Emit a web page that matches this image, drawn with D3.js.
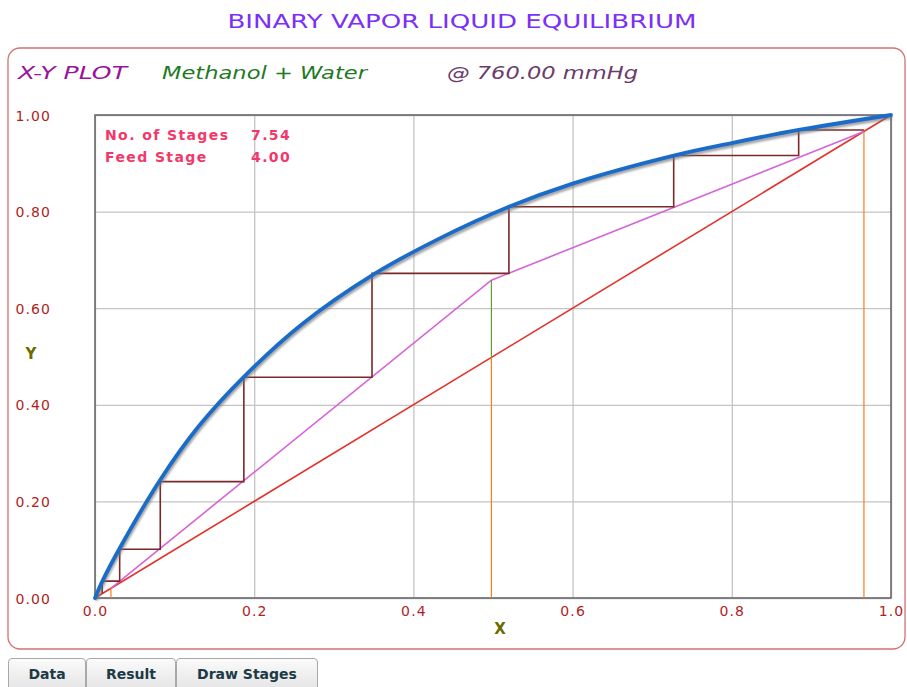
<!DOCTYPE html>
<html>
<head>
<meta charset="utf-8">
<script src="https://cdn.jsdelivr.net/npm/d3@7/dist/d3.min.js"></script>
<style>
  body { margin: 0; background: #fff; }
  svg { display: block; }
</style>
</head>
<body>
<script>
// values
var ticks = [0, 0.2, 0.4, 0.6, 0.8, 1.0];

// equilibrium curve (methanol mole fraction, liquid x / vapour y)
var eqX = [0, 0.009, 0.031, 0.082, 0.130, 0.187, 0.260, 0.348, 0.430, 0.520, 0.600, 0.727, 0.800, 0.884, 1.0];
var eqY = [0, 0.034, 0.103, 0.245, 0.355, 0.458, 0.567, 0.668, 0.742, 0.810, 0.858, 0.916, 0.942, 0.969, 1.0];

// operating lines: xW -> feed intersection -> xD
var opX = [0.020, 0.498, 0.966];
var opY = [0.020, 0.658, 0.966];

// staircase corners
var stageX = [0.966, 0.884, 0.727, 0.520, 0.348, 0.187, 0.082, 0.031, 0.009];
var stageY = [0.969, 0.916, 0.810, 0.672, 0.457, 0.241, 0.101, 0.035, 0.010];

var xD = 0.966, xF = 0.498, xW = 0.020, yFeed = 0.658;
var nStages = 7.54, feedStage = 4.00;
var tabs = ["Data", "Result", "Draw Stages"];

var W = 907, H = 687;
var plot = {left: 95, right: 891, top: 115, bottom: 598};

var svg = d3.select('body').append('svg').attr('width', W).attr('height', H);

var defs = svg.append('defs');
defs.append('filter').attr('id', 'blur').append('feGaussianBlur').attr('stdDeviation', 1.2);
var grad = defs.append('linearGradient').attr('id', 'tabg').attr('x1', 0).attr('x2', 0).attr('y1', 0).attr('y2', 1);
grad.append('stop').attr('offset', '0%').attr('stop-color', '#fbfbfb');
grad.append('stop').attr('offset', '100%').attr('stop-color', '#dedede');

// title
svg.append('text')
    .attr('x', 462).attr('y', 28)
    .attr('text-anchor', 'middle')
    .attr('fill', '#7b2ff7')
    .attr('font-family', 'DejaVu Sans')
    .attr('font-size', 20)
    .attr('textLength', 469)
    .attr('lengthAdjust', 'spacingAndGlyphs')
    .text('BINARY VAPOR LIQUID EQUILIBRIUM');

// panel
svg.append('rect')
    .attr('x', 8).attr('y', 48).attr('width', 897).attr('height', 601)
    .attr('rx', 12)
    .attr('fill', 'none')
    .attr('stroke', '#d47272')
    .attr('stroke-width', 1.3);

var header = [
  {t: 'X-Y PLOT', x: 18, w: 109, c: '#9b139b'},
  {t: 'Methanol + Water', x: 162, w: 205, c: '#1f7a1f'},
  {t: '@ 760.00 mmHg', x: 447, w: 191, c: '#6b3b6b'}
];
svg.selectAll('text.hdr')
    .data(header)
    .enter().append('text')
        .attr('class', 'hdr')
        .attr('x', function(d){ return d.x; })
        .attr('y', 79)
        .attr('fill', function(d){ return d.c; })
        .attr('font-family', 'DejaVu Sans')
        .attr('font-style', 'italic')
        .attr('font-size', 18)
        .attr('textLength', function(d){ return d.w; })
        .attr('lengthAdjust', 'spacingAndGlyphs')
        .text(function(d){ return d.t; });

var x = d3.scaleLinear().domain([0, 1]).range([plot.left, plot.right]);
var y = d3.scaleLinear().domain([0, 1]).range([plot.bottom, plot.top]);
var pw = plot.right - plot.left, ph = plot.bottom - plot.top;

var g = svg.append('g');

// grid + tick labels
var xAxis = g.append('g')
    .attr('transform', 'translate(0,' + plot.bottom + ')')
    .call(d3.axisBottom(x).tickValues(ticks).tickSize(-ph).tickPadding(8).tickFormat(d3.format('.1f')));
var yAxis = g.append('g')
    .attr('transform', 'translate(' + plot.left + ',0)')
    .call(d3.axisLeft(y).tickValues(ticks).tickSize(-pw).tickPadding(44).tickFormat(d3.format('.2f')));

[xAxis, yAxis].forEach(function(a){
  a.select('.domain').remove();
  a.selectAll('line').attr('stroke', '#c4c4c4').attr('stroke-width', 1.3);
  a.selectAll('text')
      .attr('fill', '#b01e1e')
      .attr('font-family', 'DejaVu Sans')
      .attr('font-size', 14)
      .attr('letter-spacing', 1.1);
});
yAxis.selectAll('text').attr('dy', '0.36em');

// plot frame
g.append('rect')
    .attr('x', plot.left).attr('y', plot.top).attr('width', pw).attr('height', ph)
    .attr('fill', 'none')
    .attr('stroke', '#6a6a6a')
    .attr('stroke-width', 1.6);

// axis titles
svg.append('text').attr('x', 500).attr('y', 634).attr('text-anchor', 'middle')
    .attr('fill', '#6b6b00').attr('font-family', 'DejaVu Sans').attr('font-weight', 'bold')
    .attr('font-size', 15).text('X');
svg.append('text').attr('x', 31).attr('y', 359).attr('text-anchor', 'middle')
    .attr('fill', '#6b6b00').attr('font-family', 'DejaVu Sans').attr('font-weight', 'bold')
    .attr('font-size', 15).text('Y');

var line = d3.line().x(function(d){ return x(d[0]); }).y(function(d){ return y(d[1]); });

// y = x diagonal
g.append('path')
    .attr('d', line([[0, 0], [1, 1]]))
    .attr('fill', 'none').attr('stroke', '#e2332b').attr('stroke-width', 1.6);

// operating lines
g.append('path')
    .attr('d', line(opX.map(function(v, i){ return [v, opY[i]]; })))
    .attr('fill', 'none').attr('stroke', '#d862d8').attr('stroke-width', 1.6);

// feed line and composition markers
g.append('path')
    .attr('d', line([[xF, yFeed], [xF, xF]]))
    .attr('fill', 'none').attr('stroke', '#5f9e2f').attr('stroke-width', 1.2);
g.selectAll('path.mark')
    .data([xW, xF, xD])
    .enter().append('path')
        .attr('class', 'mark')
        .attr('d', function(d){ return line([[d, d], [d, 0]]); })
        .attr('fill', 'none').attr('stroke', '#ff7a1a').attr('stroke-width', 1.2);

// stages
var steps = [[stageX[0], stageY[0]]];
for (var i = 1; i < stageX.length; i++) {
  steps.push([stageX[i], stageY[i - 1]]);
  steps.push([stageX[i], stageY[i]]);
}
g.append('path')
    .attr('d', line(steps))
    .attr('fill', 'none').attr('stroke', '#7b2828').attr('stroke-width', 1.6);

// equilibrium curve with soft shadow
var eq = eqX.map(function(v, i){ return [v, eqY[i]]; });
var curve = d3.line().x(function(d){ return x(d[0]); }).y(function(d){ return y(d[1]); }).curve(d3.curveCatmullRom.alpha(0.5));
g.append('path')
    .attr('d', curve(eq))
    .attr('transform', 'translate(1,2.5)')
    .attr('fill', 'none').attr('stroke', '#777').attr('stroke-opacity', 0.7)
    .attr('stroke-width', 3.5).attr('filter', 'url(#blur)');
g.append('path')
    .attr('d', curve(eq))
    .attr('fill', 'none').attr('stroke', '#1b6cc8').attr('stroke-width', 3.8)
    .attr('stroke-linecap', 'round');

// stage info
var info = [['No. of Stages', nStages.toFixed(2)], ['Feed Stage', feedStage.toFixed(2)]];
var infoG = svg.selectAll('g.info')
    .data(info)
    .enter().append('g')
        .attr('class', 'info')
        .attr('transform', function(d, i){ return 'translate(105,' + (140 + i * 22) + ')'; });
infoG.append('text')
    .attr('fill', '#f2386a').attr('font-family', 'DejaVu Sans').attr('font-weight', 'bold')
    .attr('font-size', 14).attr('letter-spacing', 1.4)
    .text(function(d){ return d[0]; });
infoG.append('text')
    .attr('x', 146)
    .attr('fill', '#f2386a').attr('font-family', 'DejaVu Sans').attr('font-weight', 'bold')
    .attr('font-size', 14).attr('letter-spacing', 1.4)
    .text(function(d){ return d[1]; });

// tabs
var tabW = [78, 90, 142];
var tabX = [8];
tabW.forEach(function(w, i){ if (i > 0) tabX.push(tabX[i - 1] + tabW[i - 1]); });
var tab = svg.selectAll('g.tab')
    .data(tabs)
    .enter().append('g')
        .attr('class', 'tab')
        .attr('transform', function(d, i){ return 'translate(' + tabX[i] + ',658)'; });
tab.append('path')
    .attr('d', function(d, i){ var w = tabW[i]; return 'M0.5,40 V4 Q0.5,0.5 4,0.5 H' + (w - 4) + ' Q' + (w - 0.5) + ',0.5 ' + (w - 0.5) + ',4 V40'; })
    .attr('fill', 'url(#tabg)')
    .attr('stroke', '#a9a9a9');
tab.append('text')
    .attr('x', function(d, i){ return tabW[i] / 2; })
    .attr('y', 21)
    .attr('text-anchor', 'middle')
    .attr('fill', '#1c3a46').attr('font-family', 'DejaVu Sans').attr('font-weight', 'bold')
    .attr('font-size', 14)
    .text(function(d){ return d; });
</script>
</body>
</html>
